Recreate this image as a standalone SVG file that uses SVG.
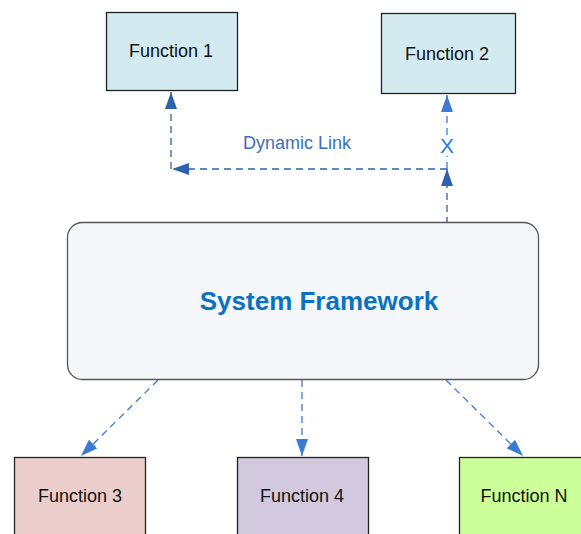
<svg xmlns="http://www.w3.org/2000/svg" width="581" height="534" viewBox="0 0 581 534">
<style>
.box{stroke:#222;stroke-width:1.3}
.lbl{font-family:"Liberation Sans",Arial,sans-serif;font-size:18px;fill:#111;text-anchor:middle}
.c1{fill:none;stroke:#3a7bd5;stroke-width:1.3;stroke-dasharray:7,5}
.c2{fill:none;stroke:#2d62ad;stroke-width:1.3;stroke-dasharray:7,5}
</style>
<defs>
<marker id="a1" viewBox="0 0 17 12" refX="17" refY="6" markerWidth="17" markerHeight="12" markerUnits="userSpaceOnUse" orient="auto"><path d="M0,0 L17,6 L0,12 z" fill="#3a7bd5"/></marker>
<marker id="a2" viewBox="0 0 17 12" refX="17" refY="6" markerWidth="17" markerHeight="12" markerUnits="userSpaceOnUse" orient="auto"><path d="M0,0 L17,6 L0,12 z" fill="#2d62ad"/></marker>
</defs>
<rect width="581" height="534" fill="#fff"/>
<g id="connectors">
<path class="c1" d="M447,135 L447,95" marker-end="url(#a1)"/>
<path class="c1" d="M447,169 L447,156"/>
<path class="c2" d="M447,224 L447,169" marker-end="url(#a2)"/>
<path class="c2" d="M447,169 L172,169" marker-end="url(#a2)"/>
<path class="c2" d="M171,169 L171,92" marker-end="url(#a2)"/>
<path class="c1" d="M158,380 L81,456" marker-end="url(#a1)"/>
<path class="c1" d="M302,380 L302,456" marker-end="url(#a1)"/>
<path class="c1" d="M446,380 L523,456" marker-end="url(#a1)"/>
<text x="297" y="149" font-family="Liberation Sans,Arial,sans-serif" font-size="18" fill="#3a6fba" text-anchor="middle">Dynamic Link</text>
<text x="447" y="153" font-family="Liberation Sans,Arial,sans-serif" font-size="21" fill="#2a7ad8" text-anchor="middle">X</text>
</g>
<g id="function1"><rect class="box" x="106.5" y="12.5" width="131" height="78" fill="#d3eaf0"/><text class="lbl" x="171" y="57">Function 1</text></g>
<g id="function2"><rect class="box" x="381.5" y="13.5" width="134" height="80" fill="#d3eaf0"/><text class="lbl" x="447" y="60">Function 2</text></g>
<g id="framework"><rect x="67.5" y="222.5" width="471" height="157" rx="15" fill="#f5f7fb" stroke="#555" stroke-width="1.3"/><text x="319" y="310" font-family="Liberation Sans,Arial,sans-serif" font-size="26" font-weight="bold" fill="#0b72c0" text-anchor="middle">System Framework</text></g>
<g id="function3"><rect class="box" x="14.5" y="457.5" width="131" height="90" fill="#ebcdcc"/><text class="lbl" x="80" y="502">Function 3</text></g>
<g id="function4"><rect class="box" x="237.5" y="457.5" width="131" height="90" fill="#d2c9de"/><text class="lbl" x="302" y="502">Function 4</text></g>
<g id="functionN"><rect class="box" x="459.5" y="457.5" width="131" height="90" fill="#ccff99"/><text class="lbl" x="524" y="502">Function N</text></g>
</svg>
